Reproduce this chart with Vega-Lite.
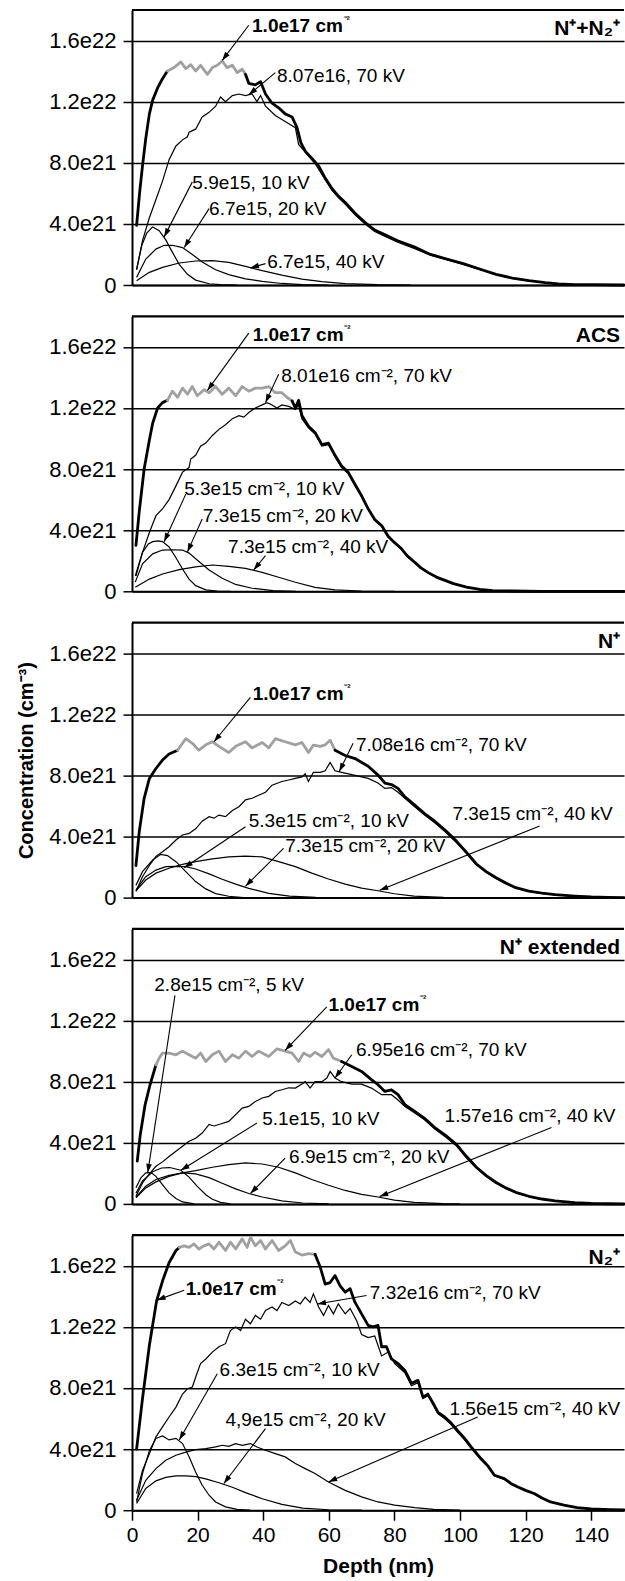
{
"$schema":"https://vega.github.io/schema/vega-lite/v6.json",
"background":"white",
"padding":{"top":8,"left":16,"right":0,"bottom":0},
"config":{"font":"Liberation Sans","view":{"stroke":null},
 "axis":{"domainColor":"black","domainWidth":2,"tickColor":"black","tickWidth":1.5,"gridColor":"black","gridWidth":1.5,"gridOpacity":1,"labelColor":"black","labelFont":"Liberation Sans","labelFontSize":21,"titleFont":"Liberation Sans","titleFontSize":21,"titleFontWeight":"bold","titleColor":"black"}},
"datasets":{
"curves":[
{"panel":1,"curve":"total rise","pts":[[1.4,3.9],[2.3,6.0],[3.2,7.8],[4.2,9.6],[5.3,11.2],[6.3,12.1],[7.8,12.9],[9.3,13.5],[10.8,14.0]]},
{"panel":1,"curve":"total plateau","pts":[[10.8,14.0],[12.8,14.23],[14.9,14.6],[16.4,14.16],[17.9,14.42],[19.4,14.01],[20.9,14.38],[23,13.79],[24.5,14.23],[26,14.38],[27.5,14.66],[29,14.23],[30.6,14.38],[32.1,13.9],[33.6,14.12],[34.6,13.79]]},
{"panel":1,"curve":"total tail","pts":[[34.6,13.79],[35.6,13.2],[37.6,13.1],[39.2,13.3],[40.7,12.5],[42.7,11.9],[44.7,11.6],[46.7,11.2],[48.8,11.0],[50.3,10.3],[51.5,9.3],[53,8.7],[54.8,8.3],[56.9,7.8],[58.9,7.0],[61,6.3],[63,5.8],[65,5.4],[68,4.7],[71,4.1],[74,3.6],[77,3.3],[81,2.9],[86,2.5],[91,2.0],[96,1.7],[101,1.4],[106,1.05],[111,0.7],[116,0.45],[121,0.28],[126,0.15],[130,0.07],[135,0.03],[140,0.02],[150,0]]},
{"panel":1,"curve":"70 kV","pts":[[1.4,1.0],[3.2,2.9],[5.3,4.4],[7.3,5.6],[9.3,6.8],[11.3,8.2],[13.4,9.1],[15.4,9.5],[16.9,9.7],[17.4,10.0],[19.4,10.2],[21.4,11.0],[23.5,11.3],[25.5,11.7],[27,12.3],[28.5,12.0],[30.6,12.4],[32.6,12.5],[34.6,12.4],[36.6,12.5],[38.1,12.0],[39.2,12.4],[40.7,11.7],[43.7,11.1],[46.7,10.7],[49.8,10.3],[50.8,9.2],[53.8,8.45],[55.8,7.95],[58.9,6.9],[61,6.2],[63,5.7],[65,5.3],[68,4.6],[71,4.0],[74,3.5],[77,3.2],[81,2.8],[86,2.4],[91,1.95],[96,1.65],[101,1.35],[106,1.0],[111,0.68],[116,0.43],[121,0.27],[126,0.14],[130,0.07],[135,0.03],[140,0.02],[150,0]]},
{"panel":1,"curve":"10 kV","pts":[[1.4,1.0],[3,2.6],[4.5,3.4],[6.3,3.8],[8.3,3.55],[10.3,2.95],[12.3,2.15],[14.4,1.35],[16.9,0.7],[19.4,0.32],[23.5,0.08],[27,0.02],[32,0]]},
{"panel":1,"curve":"20 kV","pts":[[1.4,0.5],[4.2,1.7],[7.3,2.35],[9.8,2.6],[12.3,2.6],[15.4,2.45],[18.4,2.0],[21.4,1.5],[25.5,1.0],[29.5,0.68],[34.6,0.4],[39.7,0.24],[45.7,0.1],[52,0.03],[60,0]]},
{"panel":1,"curve":"40 kV","pts":[[1.4,0.28],[5.3,0.83],[9.3,1.15],[14.4,1.44],[19.4,1.57],[24.5,1.59],[29.5,1.48],[34.6,1.22],[39.7,0.94],[45.7,0.65],[51.8,0.39],[57.9,0.22],[65,0.09],[75,0.02],[85,0]]},
{"panel":2,"curve":"total rise","pts":[[1.2,3.0],[2.2,5.2],[3.7,8.0],[5.3,9.9],[6.3,11.0],[7.8,12.0],[9.3,12.35],[10.8,12.5]]},
{"panel":2,"curve":"total plateau","pts":[[10.8,12.5],[12.3,13.1],[13.9,12.7],[15.4,13.3],[16.9,12.9],[18.4,13.4],[19.9,12.8],[22,13.2],[23.5,13.0],[25.5,13.4],[27.5,12.9],[29.5,13.3],[31.6,12.8],[33.6,13.4],[35.6,13.1],[37.6,13.3],[39.7,13.3],[41.7,13.4],[43.7,13.0],[45.7,13.0],[47.2,12.7],[48.8,12.46]]},
{"panel":2,"curve":"total tail","pts":[[48.8,12.46],[49.8,12.0],[50.8,12.5],[51.8,11.5],[53.8,10.8],[55.8,10.4],[57.9,9.6],[59.9,9.7],[61.9,8.9],[63.9,8.2],[65.9,7.8],[68,7.0],[70,6.25],[72,5.4],[74,4.7],[76.1,4.3],[78.1,3.6],[80,3.2],[82.1,2.8],[84,2.3],[86.2,1.9],[88,1.55],[90.2,1.24],[92.8,0.93],[95,0.75],[98,0.5],[102,0.28],[106,0.12],[110,0.05],[116,0.02],[125,0],[150,0]]},
{"panel":2,"curve":"70 kV","pts":[[1.2,1.0],[3.2,2.55],[5.3,3.85],[7.3,4.95],[9.3,5.4],[11.3,6.0],[13.4,6.9],[15.4,7.8],[17.4,8.1],[17.9,8.65],[19.4,8.9],[20.9,9.5],[22.5,9.7],[24.5,10.2],[26.5,10.6],[28.5,10.9],[30.6,11.3],[32.6,11.5],[34.1,11.4],[35.6,11.7],[37.6,12.0],[39.7,12.2],[41.2,12.35],[42.7,12.2],[44.2,12.0],[45.7,12.2],[47.8,12.1],[49.8,11.9],[50.8,12.2],[51.8,11.3],[53.8,10.7],[55.8,10.3],[57.9,9.5],[59.9,9.6],[61.9,8.8],[63.9,8.1],[65.9,7.7],[68,6.9],[70,6.2],[72,5.35],[74,4.65],[76.1,4.25],[78.1,3.55],[80,3.15],[82.1,2.75],[84,2.25],[86.2,1.85],[88,1.5],[90.2,1.2],[92.8,0.9],[95,0.72],[98,0.48],[102,0.27],[106,0.11],[110,0.04],[116,0.02],[125,0]]},
{"panel":2,"curve":"10 kV","pts":[[1.0,1.0],[3.2,2.55],[5,3.1],[6.3,3.25],[8,3.3],[9.3,3.25],[11.3,2.9],[13.4,2.2],[15.4,1.46],[17.4,0.8],[19.4,0.37],[22.5,0.09],[26,0.02],[30,0]]},
{"panel":2,"curve":"20 kV","pts":[[1.0,0.6],[3.2,1.8],[6.3,2.45],[9.3,2.7],[12.3,2.72],[15.4,2.7],[17.4,2.5],[20.4,1.95],[23.5,1.4],[27.5,0.85],[31.6,0.45],[36.6,0.2],[43,0.05],[50,0]]},
{"panel":2,"curve":"40 kV","pts":[[1.0,0.26],[5.3,0.8],[9.3,1.13],[14.4,1.42],[19.4,1.6],[24.5,1.72],[29.5,1.63],[34.6,1.5],[39.7,1.24],[44.7,0.92],[49.8,0.59],[55.8,0.26],[61.9,0.09],[70,0.02],[80,0]]},
{"panel":3,"curve":"total rise","pts":[[1.2,2.1],[2.2,4.3],[3.7,6.5],[5.3,7.8],[7.3,8.45],[9.3,9.0],[11.3,9.4],[13.4,9.6],[13.9,9.65]]},
{"panel":3,"curve":"total plateau","pts":[[13.9,9.65],[16.4,10.4],[18.4,10.1],[20.4,9.65],[22.5,10.0],[24.5,10.2],[26.5,9.9],[29.5,9.5],[31.6,9.9],[34.6,10.2],[36.6,9.8],[39.7,10.15],[41.7,9.8],[43.7,10.4],[46.7,10.2],[49.8,10.0],[51.8,10.15],[53.8,9.5],[55.3,9.98],[57.4,9.9],[58.9,10.0],[60.4,10.3],[61.9,9.65]]},
{"panel":3,"curve":"total tail","pts":[[61.9,9.65],[65,9.3],[68,9.1],[72,8.6],[75.1,8.0],[77.1,7.5],[79.1,7.4],[81.1,7.15],[83.2,6.6],[86.2,6.05],[89.2,5.5],[92.3,5.0],[95.5,4.4],[98.9,3.7],[102,2.95],[105,2.2],[108,1.7],[111,1.3],[114,0.95],[117,0.65],[121,0.42],[125,0.3],[129,0.2],[135,0.1],[140,0.04],[145,0.01],[150,0]]},
{"panel":3,"curve":"70 kV","pts":[[1.2,0.4],[3.2,1.37],[5.3,2.1],[7.3,2.7],[9.3,3.0],[11.3,3.33],[13.4,3.77],[15.4,4.1],[17.4,4.2],[19.4,4.5],[21.4,5.0],[23.5,5.3],[25,5.2],[26.5,5.4],[28.5,5.3],[30.6,5.7],[32.6,5.95],[34.6,6.4],[36.6,6.5],[38.6,6.7],[40.7,6.9],[42.7,7.36],[45.7,7.6],[47.8,7.7],[49.8,7.8],[51.8,7.9],[52.8,8.1],[53.8,7.6],[55.3,8.2],[57.4,8.2],[58.9,8.3],[60.4,8.85],[61.9,8.3],[63.9,8.2],[66,8.1],[70,7.9],[72,7.8],[75,7.5],[77.1,7.15],[79.1,7.2],[81.1,6.9],[83.2,6.5],[86.2,5.95],[89.2,5.4],[92.3,4.9],[95.5,4.3],[98.9,3.6],[102,2.9],[105,2.15],[108,1.65],[111,1.25],[114,0.9],[117,0.62],[121,0.4],[125,0.28],[129,0.18],[135,0.09],[140,0.03],[145,0.01]]},
{"panel":3,"curve":"10 kV","pts":[[1.2,0.8],[3.2,1.7],[6.3,2.46],[8.8,2.83],[10.8,2.75],[13.4,2.35],[16.4,1.7],[19.4,1.05],[22.5,0.57],[25.5,0.26],[29.5,0.09],[34,0]]},
{"panel":3,"curve":"20 kV","pts":[[1.2,0.5],[4.2,1.37],[7.3,1.8],[10.3,2.03],[13.4,2.05],[16.4,2.03],[19.4,1.87],[23.5,1.55],[27.5,1.2],[31.6,0.88],[35.6,0.6],[41.7,0.28],[48,0.1],[56,0.02],[62,0]]},
{"panel":3,"curve":"40 kV","pts":[[1.2,0.44],[4.2,1.15],[7.3,1.6],[11.3,1.92],[15.4,2.18],[19.4,2.35],[24.5,2.53],[29.5,2.66],[34.6,2.72],[39.7,2.66],[44.7,2.35],[49.8,2.03],[54.8,1.6],[59.9,1.22],[65,0.88],[70,0.62],[75,0.45],[80,0.25],[86,0.1],[95,0.02],[100,0]]},
{"panel":4,"curve":"total rise","pts":[[1.6,2.8],[2.5,4.5],[4,6.5],[5.5,7.8],[7.3,9.1]]},
{"panel":4,"curve":"total plateau","pts":[[7.3,9.1],[8.3,9.55],[9.3,9.87],[11.3,9.87],[13.4,9.76],[15.4,10.0],[17.4,9.76],[19.4,9.54],[20.9,9.87],[22.5,9.32],[24.5,9.76],[26.5,10.0],[28.5,9.32],[30.6,9.76],[32.6,9.54],[34.6,10.0],[36.6,9.65],[38.6,10.0],[41.7,9.65],[44.2,10.15],[46.7,10.0],[48.8,9.87],[50.8,9.32],[52.3,9.87],[54.3,9.65],[55.8,9.93],[57.9,9.65],[59.9,10.1],[61.4,9.54],[63.9,9.32]]},
{"panel":4,"curve":"total tail","pts":[[63.9,9.32],[67,9.0],[70,8.67],[73,8.13],[75,7.8],[77.1,7.36],[79.1,7.47],[81.1,7.15],[83.2,6.5],[86.2,6.06],[89.2,5.6],[92.3,5.0],[95.5,4.5],[98.9,3.9],[102,3.1],[105,2.4],[108,1.85],[111,1.4],[114,1.05],[117,0.76],[121,0.5],[125,0.32],[129,0.2],[135,0.08],[140,0.03],[145,0.01],[150,0]]},
{"panel":4,"curve":"70 kV","pts":[[1.2,0.5],[3.2,1.37],[5.3,1.96],[7.3,2.46],[9.3,2.75],[11.3,3.1],[13.4,3.44],[15.4,3.77],[17.4,4.1],[19.4,4.3],[21.4,4.64],[23.5,5.2],[25,5.1],[27,5.23],[29.5,5.4],[31.6,5.84],[33.6,6.27],[35.6,6.38],[37.6,6.7],[39.7,6.93],[41.7,7.04],[43.7,7.36],[45.7,7.47],[47.8,7.6],[49.8,7.58],[51.8,7.84],[52.8,8.0],[54.3,7.58],[55.8,8.0],[57.9,8.0],[59.4,8.24],[60.4,8.67],[61.9,8.24],[63.9,8.0],[67,7.84],[70,7.84],[73,7.58],[76.1,7.15],[79.1,7.15],[81.1,6.8],[83.2,6.38],[86.2,5.95],[89.2,5.5],[92.3,4.9],[95.5,4.4],[98.9,3.8],[102,3.0],[105,2.35],[108,1.8],[111,1.35],[114,1.0],[117,0.72],[121,0.48],[125,0.3],[129,0.19],[135,0.07],[140,0.03],[145,0.01]]},
{"panel":4,"curve":"5 kV","pts":[[1.2,1.05],[2.7,1.7],[4.2,2.03],[5.8,2.05],[7.3,1.8],[9.3,1.26],[11.3,0.72],[13.4,0.35],[15.4,0.13],[19,0]]},
{"panel":4,"curve":"10 kV","pts":[[1.2,0.7],[3.2,1.5],[6.3,2.1],[9,2.35],[11.5,2.38],[14.9,2.2],[17.4,1.75],[19.9,1.15],[22.5,0.6],[24.5,0.3],[27,0.1],[30,0]]},
{"panel":4,"curve":"20 kV","pts":[[1.2,0.44],[4.2,1.15],[7.3,1.6],[11.3,1.87],[15.4,2.03],[19.4,1.96],[23.5,1.72],[27.5,1.35],[31.6,0.98],[35.6,0.68],[39.7,0.45],[45.7,0.2],[52,0.06],[60,0]]},
{"panel":4,"curve":"40 kV","pts":[[1.2,0.39],[4.2,1.05],[7.3,1.44],[11.3,1.8],[15.4,2.03],[19.4,2.18],[24.5,2.4],[29.5,2.57],[34.6,2.68],[39.7,2.61],[44.7,2.4],[49.8,2.03],[54.8,1.6],[59.9,1.22],[65,0.88],[70,0.62],[75,0.45],[80,0.25],[86,0.1],[95,0.02],[100,0]]},
{"panel":5,"curve":"total rise","pts":[[1.4,4.0],[3.2,7.3],[5.3,10.8],[7.5,13.7],[9.3,15.0],[11.3,16.2],[13.4,17.0],[14.4,17.2]]},
{"panel":5,"curve":"total plateau","pts":[[14.4,17.2],[15.9,17.3],[17.4,17.2],[18.9,17.43],[20.4,17.1],[21.9,17.3],[23.5,17.43],[25,17.1],[26.5,17.54],[28.5,17.0],[30,17.54],[31.6,17.1],[33.6,17.76],[35.1,17.2],[36.1,17.87],[37.6,17.3],[39.2,17.65],[40.7,17.1],[42.7,17.65],[44.7,17.0],[46.7,17.3],[48.3,17.65],[49.8,16.9],[51.8,16.7],[53.8,16.8],[55.8,16.75]]},
{"panel":5,"curve":"total tail","pts":[[55.8,16.75],[57.4,15.9],[58.9,14.8],[60.4,14.9],[61.9,15.36],[63.4,14.7],[65,14.27],[66.5,14.5],[68,13.6],[70,12.85],[72,12.1],[73.5,12.0],[75,12.1],[76.1,10.7],[77.6,10.7],[79.1,9.9],[81.1,9.6],[83.2,9.15],[85.2,8.3],[87.2,8.5],[88.7,7.4],[90.2,7.6],[91.8,7.0],[93.3,6.4],[95.3,6.1],[97.3,5.7],[99.3,5.2],[101.4,4.7],[103.4,4.14],[106.4,3.38],[108.5,2.9],[110.5,2.29],[113.5,2.07],[115.5,1.75],[117.5,1.53],[120,1.3],[122.6,1.09],[125,0.8],[127.6,0.54],[131.7,0.33],[135.7,0.17],[140,0.08],[145.9,0.04],[150,0.02]]},
{"panel":5,"curve":"70 kV","pts":[[1.4,1.09],[3.2,2.6],[5.3,3.7],[7.3,4.8],[9.3,5.45],[11.3,6.1],[13.4,6.75],[15.4,7.6],[16.9,7.95],[18.4,8.06],[19.4,8.7],[20.9,9.6],[22.5,9.9],[24.5,10.35],[26.5,10.7],[28.5,10.9],[30,11.76],[31.6,12.0],[33.1,11.76],[34.6,12.5],[36.1,12.2],[37.6,12.75],[39.2,12.5],[40.7,13.07],[42.7,13.3],[44.2,13.07],[45.7,13.6],[47.8,13.4],[49.8,13.7],[51.3,13.5],[52.8,13.94],[54.3,13.6],[55.3,14.16],[56.9,13.3],[58.4,12.75],[59.9,13.4],[61.4,12.85],[62.9,13.5],[65,12.85],[66.5,13.2],[68.5,12.4],[70,11.5],[72,11.3],[74,11.4],[76.1,10.1],[78.1,10.35],[80.1,9.6],[83.2,9.0],[85.2,8.15],[87.2,8.35],[88.7,7.3],[90.2,7.5],[91.8,6.9],[93.3,6.3],[95.3,6.0],[97.3,5.6],[99.3,5.1],[101.4,4.6],[103.4,4.05],[106.4,3.3],[108.5,2.85],[110.5,2.25],[113.5,2.02],[115.5,1.7],[117.5,1.5],[120,1.27],[122.6,1.06],[125,0.78],[127.6,0.52],[131.7,0.32],[135.7,0.16],[140,0.07],[145.9,0.03]]},
{"panel":5,"curve":"10 kV","pts":[[1.4,0.54],[3.2,2.4],[5.3,3.9],[7.3,4.7],[9.3,4.86],[11.3,4.6],[13.4,4.7],[15.4,4.36],[17.4,3.5],[19.4,2.5],[21.4,1.63],[23.5,0.98],[25.5,0.54],[28.5,0.22],[32,0.05],[36,0]]},
{"panel":5,"curve":"20 kV","pts":[[1.4,0.44],[4.2,1.42],[7.3,1.92],[10.3,2.15],[13.4,2.25],[16.4,2.25],[19.4,2.2],[22.5,2.05],[26.5,1.8],[30.6,1.5],[34.6,1.15],[39.7,0.75],[45.7,0.38],[52,0.13],[60,0.03],[70,0]]},
{"panel":5,"curve":"40 kV","pts":[[1.4,0.65],[4.2,1.96],[7.3,2.72],[10.3,3.27],[13.4,3.6],[16.4,3.8],[19.4,3.96],[22.5,4.03],[25.5,4.14],[27.5,4.25],[29.5,4.18],[31.6,4.36],[33.6,4.25],[36.1,4.36],[38.1,4.14],[40.7,3.92],[43.7,3.7],[46.7,3.49],[49.8,3.05],[52.8,2.72],[55.8,2.4],[59.9,1.85],[65,1.3],[70,0.87],[75,0.54],[80.1,0.33],[86.2,0.17],[92,0.06],[100,0]]}
],
"notes":[
{"panel":1,"label":"1.0e17 cm⁻²","tx":36.6,"ty":16.95,"x1":35.6,"y1":17.0,"x2":27.5,"y2":14.7},
{"panel":1,"label":"8.07e16, 70 kV","tx":44.2,"ty":13.7,"x1":43.7,"y1":13.9,"x2":35.6,"y2":12.45},
{"panel":1,"label":"5.9e15, 10 kV","tx":18.4,"ty":6.7,"x1":18.4,"y1":6.75,"x2":9.8,"y2":3.15},
{"panel":1,"label":"6.7e15, 20 kV","tx":23.5,"ty":4.97,"x1":23.5,"y1":5.0,"x2":15.9,"y2":2.45},
{"panel":1,"label":"6.7e15, 40 kV","tx":41.2,"ty":1.48,"x1":40.7,"y1":1.4,"x2":36.1,"y2":1.12},
{"panel":2,"label":"1.0e17 cm⁻²","tx":36.8,"ty":16.8,"x1":35.6,"y1":16.9,"x2":23.0,"y2":13.15},
{"panel":2,"label":"8.01e16 cm⁻², 70 kV","tx":45.5,"ty":14.1,"x1":44.7,"y1":14.2,"x2":40.7,"y2":12.35},
{"panel":2,"label":"5.3e15 cm⁻², 10 kV","tx":15.9,"ty":6.7,"x1":16.4,"y1":6.36,"x2":9.8,"y2":3.25},
{"panel":2,"label":"7.3e15 cm⁻², 20 kV","tx":21.6,"ty":4.95,"x1":21.4,"y1":4.73,"x2":16.9,"y2":2.58},
{"panel":2,"label":"7.3e15 cm⁻², 40 kV","tx":29.3,"ty":2.88,"x1":40.7,"y1":2.33,"x2":37.1,"y2":1.4},
{"panel":3,"label":"1.0e17 cm⁻²","tx":36.8,"ty":13.3,"x1":36.1,"y1":13.1,"x2":25,"y2":10.2},
{"panel":3,"label":"7.08e16 cm⁻², 70 kV","tx":68.3,"ty":10.0,"x1":67.4,"y1":10.1,"x2":63.2,"y2":8.25},
{"panel":3,"label":"5.3e15 cm⁻², 10 kV","tx":35.6,"ty":5.0,"x1":34.6,"y1":4.64,"x2":15.9,"y2":1.95},
{"panel":3,"label":"7.3e15 cm⁻², 20 kV","tx":46.7,"ty":3.38,"x1":46.2,"y1":3.22,"x2":34.6,"y2":0.75},
{"panel":3,"label":"7.3e15 cm⁻², 40 kV","tx":97.7,"ty":5.45,"x1":124.3,"y1":4.69,"x2":75.5,"y2":0.48},
{"panel":4,"label":"2.8e15 cm⁻², 5 kV","tx":6.8,"ty":14.3,"x1":13.1,"y1":13.65,"x2":4.8,"y2":2.05},
{"panel":4,"label":"1.0e17 cm⁻²","tx":59.9,"ty":13.0,"x1":59.4,"y1":12.9,"x2":46.7,"y2":10.05},
{"panel":4,"label":"6.95e16 cm⁻², 70 kV","tx":68.3,"ty":10.1,"x1":67,"y1":9.76,"x2":61.9,"y2":8.24},
{"panel":4,"label":"5.1e15, 10 kV","tx":39.7,"ty":5.56,"x1":38.1,"y1":5.3,"x2":14.9,"y2":2.2},
{"panel":4,"label":"6.9e15 cm⁻², 20 kV","tx":47.9,"ty":3.1,"x1":46.7,"y1":3.0,"x2":36.1,"y2":0.68},
{"panel":4,"label":"1.57e16 cm⁻², 40 kV","tx":95.3,"ty":5.77,"x1":127.9,"y1":5.0,"x2":75.5,"y2":0.48},
{"panel":5,"label":"1.0e17 cm⁻²","tx":16.4,"ty":14.5,"x1":15.9,"y1":14.4,"x2":7.6,"y2":13.75},
{"panel":5,"label":"7.32e16 cm⁻², 70 kV","tx":72.5,"ty":14.2,"x1":71.5,"y1":14.05,"x2":56.5,"y2":13.5},
{"panel":5,"label":"6.3e15 cm⁻², 10 kV","tx":26.7,"ty":9.15,"x1":26,"y1":8.93,"x2":14.4,"y2":4.6},
{"panel":5,"label":"4,9e15 cm⁻², 20 kV","tx":28.5,"ty":5.88,"x1":40.7,"y1":5.34,"x2":28,"y2":1.75},
{"panel":5,"label":"1.56e15 cm⁻², 40 kV","tx":96.8,"ty":6.64,"x1":105.4,"y1":6.1,"x2":59.9,"y2":1.85}
],
"panels":[{"panel":1,"name":"N⁺+N₂⁺","ny":16.35},{"panel":2,"name":"ACS","ny":16.35},{"panel":3,"name":"N⁺","ny":16.35},{"panel":4,"name":"N⁺ extended","ny":16.35},{"panel":5,"name":"N₂⁺","ny":16.1}]
},
"spacing":31.3,
"bounds":"flush",
"vconcat":[
{"width":492,"height":275,"layer":[
 {"data":{"name":"curves"},"transform":[{"filter":"datum.panel===1 && indexof(datum.curve,'total')<0"},{"flatten":["pts"]}],"mark":{"type":"line","color":"black","strokeWidth":1.2},
  "encoding":{"x":{"field":"pts[0]","type":"quantitative","scale":{"domain":[0,150],"nice":false,"zero":false},"axis":{"labels":false,"ticks":false,"grid":false,"title":null}},
   "y":{"field":"pts[1]","type":"quantitative","scale":{"domain":[0,18],"nice":false},"axis":{"values":[0,4,8,12,16],"labelExpr":"datum.value===0?'0':(datum.value<10?format(datum.value,'.1f')+'e21':format(datum.value/10,'.1f')+'e22')","tickSize":9,"labelPadding":7,"labelFontSize":22,"grid":true,"title":null,"labelFlush":false}},
   "detail":{"field":"curve"}}},
 {"data":{"values":[{}]},"mark":{"type":"rule","color":"black","strokeWidth":2.2},"encoding":{"y":{"datum":18,"type":"quantitative"}}},
 {"data":{"name":"curves"},"transform":[{"filter":"datum.panel===1 && indexof(datum.curve,'total')===0"},{"flatten":["pts"]}],"mark":{"type":"line","strokeWidth":2.8,"strokeJoin":"round","strokeCap":"round"},
  "encoding":{"x":{"field":"pts[0]","type":"quantitative"},"y":{"field":"pts[1]","type":"quantitative"},"detail":{"field":"curve"},
   "color":{"condition":{"test":"datum.curve==='total plateau'","value":"#a0a0a0"},"value":"black"}}},
 {"data":{"name":"notes"},"transform":[{"filter":"datum.panel===1"}],"mark":{"type":"rule","color":"black","strokeWidth":1.1},
  "encoding":{"x":{"field":"x1","type":"quantitative"},"y":{"field":"y1","type":"quantitative"},"x2":{"field":"x2"},"y2":{"field":"y2"}}},
 {"data":{"name":"notes"},"transform":[{"filter":"datum.panel===1"},{"calculate":"atan2((datum.x2-datum.x1)*3.28,(datum.y2-datum.y1)*15.28)*180/PI","as":"ang"}],"mark":{"type":"point","shape":"M0,0L-0.33,1L0.33,1Z","filled":true,"size":300,"color":"black","opacity":1},
  "encoding":{"x":{"field":"x2","type":"quantitative"},"y":{"field":"y2","type":"quantitative"},"angle":{"field":"ang","type":"quantitative","scale":null}}},
 {"data":{"name":"notes"},"transform":[{"filter":"datum.panel===1 && indexof(datum.label,'1.0e17')!==0"}],"mark":{"type":"text","align":"left","baseline":"middle","fontSize":19,"font":"Liberation Sans","color":"black"},
  "encoding":{"x":{"field":"tx","type":"quantitative"},"y":{"field":"ty","type":"quantitative"},"text":{"field":"label"}}},
 {"data":{"name":"notes"},"transform":[{"filter":"datum.panel===1 && indexof(datum.label,'1.0e17')===0"},{"calculate":"replace(datum.label,'⁻²','')","as":"base"}],"mark":{"type":"text","align":"left","baseline":"middle","fontSize":19,"fontWeight":"bold","font":"Liberation Sans","color":"black"},
  "encoding":{"x":{"field":"tx","type":"quantitative"},"y":{"field":"ty","type":"quantitative"},"text":{"field":"base"}}},
 {"data":{"name":"notes"},"transform":[{"filter":"datum.panel===1 && indexof(datum.label,'1.0e17')===0"}],"mark":{"type":"text","align":"left","baseline":"middle","fontSize":10,"fontWeight":"bold","font":"Liberation Sans","color":"black","dx":91.5,"dy":-6},
  "encoding":{"x":{"field":"tx","type":"quantitative"},"y":{"field":"ty","type":"quantitative"},"text":{"value":"⁻²"}}},
 {"data":{"name":"panels"},"transform":[{"filter":"datum.panel===1"}],"mark":{"type":"text","align":"right","baseline":"alphabetic","fontSize":21,"fontWeight":"bold","font":"Liberation Sans","color":"black"},
  "encoding":{"x":{"datum":148.8,"type":"quantitative"},"y":{"field":"ny","type":"quantitative"},"text":{"field":"name"}}}
]},
{"width":492,"height":275,"layer":[
 {"data":{"name":"curves"},"transform":[{"filter":"datum.panel===2 && indexof(datum.curve,'total')<0"},{"flatten":["pts"]}],"mark":{"type":"line","color":"black","strokeWidth":1.2},
  "encoding":{"x":{"field":"pts[0]","type":"quantitative","scale":{"domain":[0,150],"nice":false,"zero":false},"axis":{"labels":false,"ticks":false,"grid":false,"title":null}},
   "y":{"field":"pts[1]","type":"quantitative","scale":{"domain":[0,18],"nice":false},"axis":{"values":[0,4,8,12,16],"labelExpr":"datum.value===0?'0':(datum.value<10?format(datum.value,'.1f')+'e21':format(datum.value/10,'.1f')+'e22')","tickSize":9,"labelPadding":7,"labelFontSize":22,"grid":true,"title":null,"labelFlush":false}},
   "detail":{"field":"curve"}}},
 {"data":{"values":[{}]},"mark":{"type":"rule","color":"black","strokeWidth":2.2},"encoding":{"y":{"datum":18,"type":"quantitative"}}},
 {"data":{"name":"curves"},"transform":[{"filter":"datum.panel===2 && indexof(datum.curve,'total')===0"},{"flatten":["pts"]}],"mark":{"type":"line","strokeWidth":2.8,"strokeJoin":"round","strokeCap":"round"},
  "encoding":{"x":{"field":"pts[0]","type":"quantitative"},"y":{"field":"pts[1]","type":"quantitative"},"detail":{"field":"curve"},
   "color":{"condition":{"test":"datum.curve==='total plateau'","value":"#a0a0a0"},"value":"black"}}},
 {"data":{"name":"notes"},"transform":[{"filter":"datum.panel===2"}],"mark":{"type":"rule","color":"black","strokeWidth":1.1},
  "encoding":{"x":{"field":"x1","type":"quantitative"},"y":{"field":"y1","type":"quantitative"},"x2":{"field":"x2"},"y2":{"field":"y2"}}},
 {"data":{"name":"notes"},"transform":[{"filter":"datum.panel===2"},{"calculate":"atan2((datum.x2-datum.x1)*3.28,(datum.y2-datum.y1)*15.28)*180/PI","as":"ang"}],"mark":{"type":"point","shape":"M0,0L-0.33,1L0.33,1Z","filled":true,"size":300,"color":"black","opacity":1},
  "encoding":{"x":{"field":"x2","type":"quantitative"},"y":{"field":"y2","type":"quantitative"},"angle":{"field":"ang","type":"quantitative","scale":null}}},
 {"data":{"name":"notes"},"transform":[{"filter":"datum.panel===2 && indexof(datum.label,'1.0e17')!==0"}],"mark":{"type":"text","align":"left","baseline":"middle","fontSize":19,"font":"Liberation Sans","color":"black"},
  "encoding":{"x":{"field":"tx","type":"quantitative"},"y":{"field":"ty","type":"quantitative"},"text":{"field":"label"}}},
 {"data":{"name":"notes"},"transform":[{"filter":"datum.panel===2 && indexof(datum.label,'1.0e17')===0"},{"calculate":"replace(datum.label,'⁻²','')","as":"base"}],"mark":{"type":"text","align":"left","baseline":"middle","fontSize":19,"fontWeight":"bold","font":"Liberation Sans","color":"black"},
  "encoding":{"x":{"field":"tx","type":"quantitative"},"y":{"field":"ty","type":"quantitative"},"text":{"field":"base"}}},
 {"data":{"name":"notes"},"transform":[{"filter":"datum.panel===2 && indexof(datum.label,'1.0e17')===0"}],"mark":{"type":"text","align":"left","baseline":"middle","fontSize":10,"fontWeight":"bold","font":"Liberation Sans","color":"black","dx":91.5,"dy":-6},
  "encoding":{"x":{"field":"tx","type":"quantitative"},"y":{"field":"ty","type":"quantitative"},"text":{"value":"⁻²"}}},
 {"data":{"name":"panels"},"transform":[{"filter":"datum.panel===2"}],"mark":{"type":"text","align":"right","baseline":"alphabetic","fontSize":21,"fontWeight":"bold","font":"Liberation Sans","color":"black"},
  "encoding":{"x":{"datum":148.8,"type":"quantitative"},"y":{"field":"ny","type":"quantitative"},"text":{"field":"name"}}}
]},
{"width":492,"height":275,"layer":[
 {"data":{"name":"curves"},"transform":[{"filter":"datum.panel===3 && indexof(datum.curve,'total')<0"},{"flatten":["pts"]}],"mark":{"type":"line","color":"black","strokeWidth":1.2},
  "encoding":{"x":{"field":"pts[0]","type":"quantitative","scale":{"domain":[0,150],"nice":false,"zero":false},"axis":{"labels":false,"ticks":false,"grid":false,"title":null}},
   "y":{"field":"pts[1]","type":"quantitative","scale":{"domain":[0,18],"nice":false},"axis":{"values":[0,4,8,12,16],"labelExpr":"datum.value===0?'0':(datum.value<10?format(datum.value,'.1f')+'e21':format(datum.value/10,'.1f')+'e22')","tickSize":9,"labelPadding":7,"labelFontSize":22,"grid":true,"title":"Concentration (cm⁻³)","titleFontSize":20,"titlePadding":12,"labelFlush":false}},
   "detail":{"field":"curve"}}},
 {"data":{"values":[{}]},"mark":{"type":"rule","color":"black","strokeWidth":2.2},"encoding":{"y":{"datum":18,"type":"quantitative"}}},
 {"data":{"name":"curves"},"transform":[{"filter":"datum.panel===3 && indexof(datum.curve,'total')===0"},{"flatten":["pts"]}],"mark":{"type":"line","strokeWidth":2.8,"strokeJoin":"round","strokeCap":"round"},
  "encoding":{"x":{"field":"pts[0]","type":"quantitative"},"y":{"field":"pts[1]","type":"quantitative"},"detail":{"field":"curve"},
   "color":{"condition":{"test":"datum.curve==='total plateau'","value":"#a0a0a0"},"value":"black"}}},
 {"data":{"name":"notes"},"transform":[{"filter":"datum.panel===3"}],"mark":{"type":"rule","color":"black","strokeWidth":1.1},
  "encoding":{"x":{"field":"x1","type":"quantitative"},"y":{"field":"y1","type":"quantitative"},"x2":{"field":"x2"},"y2":{"field":"y2"}}},
 {"data":{"name":"notes"},"transform":[{"filter":"datum.panel===3"},{"calculate":"atan2((datum.x2-datum.x1)*3.28,(datum.y2-datum.y1)*15.28)*180/PI","as":"ang"}],"mark":{"type":"point","shape":"M0,0L-0.33,1L0.33,1Z","filled":true,"size":300,"color":"black","opacity":1},
  "encoding":{"x":{"field":"x2","type":"quantitative"},"y":{"field":"y2","type":"quantitative"},"angle":{"field":"ang","type":"quantitative","scale":null}}},
 {"data":{"name":"notes"},"transform":[{"filter":"datum.panel===3 && indexof(datum.label,'1.0e17')!==0"}],"mark":{"type":"text","align":"left","baseline":"middle","fontSize":19,"font":"Liberation Sans","color":"black"},
  "encoding":{"x":{"field":"tx","type":"quantitative"},"y":{"field":"ty","type":"quantitative"},"text":{"field":"label"}}},
 {"data":{"name":"notes"},"transform":[{"filter":"datum.panel===3 && indexof(datum.label,'1.0e17')===0"},{"calculate":"replace(datum.label,'⁻²','')","as":"base"}],"mark":{"type":"text","align":"left","baseline":"middle","fontSize":19,"fontWeight":"bold","font":"Liberation Sans","color":"black"},
  "encoding":{"x":{"field":"tx","type":"quantitative"},"y":{"field":"ty","type":"quantitative"},"text":{"field":"base"}}},
 {"data":{"name":"notes"},"transform":[{"filter":"datum.panel===3 && indexof(datum.label,'1.0e17')===0"}],"mark":{"type":"text","align":"left","baseline":"middle","fontSize":10,"fontWeight":"bold","font":"Liberation Sans","color":"black","dx":91.5,"dy":-6},
  "encoding":{"x":{"field":"tx","type":"quantitative"},"y":{"field":"ty","type":"quantitative"},"text":{"value":"⁻²"}}},
 {"data":{"name":"panels"},"transform":[{"filter":"datum.panel===3"}],"mark":{"type":"text","align":"right","baseline":"alphabetic","fontSize":21,"fontWeight":"bold","font":"Liberation Sans","color":"black"},
  "encoding":{"x":{"datum":148.8,"type":"quantitative"},"y":{"field":"ny","type":"quantitative"},"text":{"field":"name"}}}
]},
{"width":492,"height":275,"layer":[
 {"data":{"name":"curves"},"transform":[{"filter":"datum.panel===4 && indexof(datum.curve,'total')<0"},{"flatten":["pts"]}],"mark":{"type":"line","color":"black","strokeWidth":1.2},
  "encoding":{"x":{"field":"pts[0]","type":"quantitative","scale":{"domain":[0,150],"nice":false,"zero":false},"axis":{"labels":false,"ticks":false,"grid":false,"title":null}},
   "y":{"field":"pts[1]","type":"quantitative","scale":{"domain":[0,18],"nice":false},"axis":{"values":[0,4,8,12,16],"labelExpr":"datum.value===0?'0':(datum.value<10?format(datum.value,'.1f')+'e21':format(datum.value/10,'.1f')+'e22')","tickSize":9,"labelPadding":7,"labelFontSize":22,"grid":true,"title":null,"labelFlush":false}},
   "detail":{"field":"curve"}}},
 {"data":{"values":[{}]},"mark":{"type":"rule","color":"black","strokeWidth":2.2},"encoding":{"y":{"datum":18,"type":"quantitative"}}},
 {"data":{"name":"curves"},"transform":[{"filter":"datum.panel===4 && indexof(datum.curve,'total')===0"},{"flatten":["pts"]}],"mark":{"type":"line","strokeWidth":2.8,"strokeJoin":"round","strokeCap":"round"},
  "encoding":{"x":{"field":"pts[0]","type":"quantitative"},"y":{"field":"pts[1]","type":"quantitative"},"detail":{"field":"curve"},
   "color":{"condition":{"test":"datum.curve==='total plateau'","value":"#a0a0a0"},"value":"black"}}},
 {"data":{"name":"notes"},"transform":[{"filter":"datum.panel===4"}],"mark":{"type":"rule","color":"black","strokeWidth":1.1},
  "encoding":{"x":{"field":"x1","type":"quantitative"},"y":{"field":"y1","type":"quantitative"},"x2":{"field":"x2"},"y2":{"field":"y2"}}},
 {"data":{"name":"notes"},"transform":[{"filter":"datum.panel===4"},{"calculate":"atan2((datum.x2-datum.x1)*3.28,(datum.y2-datum.y1)*15.28)*180/PI","as":"ang"}],"mark":{"type":"point","shape":"M0,0L-0.33,1L0.33,1Z","filled":true,"size":300,"color":"black","opacity":1},
  "encoding":{"x":{"field":"x2","type":"quantitative"},"y":{"field":"y2","type":"quantitative"},"angle":{"field":"ang","type":"quantitative","scale":null}}},
 {"data":{"name":"notes"},"transform":[{"filter":"datum.panel===4 && indexof(datum.label,'1.0e17')!==0"}],"mark":{"type":"text","align":"left","baseline":"middle","fontSize":19,"font":"Liberation Sans","color":"black"},
  "encoding":{"x":{"field":"tx","type":"quantitative"},"y":{"field":"ty","type":"quantitative"},"text":{"field":"label"}}},
 {"data":{"name":"notes"},"transform":[{"filter":"datum.panel===4 && indexof(datum.label,'1.0e17')===0"},{"calculate":"replace(datum.label,'⁻²','')","as":"base"}],"mark":{"type":"text","align":"left","baseline":"middle","fontSize":19,"fontWeight":"bold","font":"Liberation Sans","color":"black"},
  "encoding":{"x":{"field":"tx","type":"quantitative"},"y":{"field":"ty","type":"quantitative"},"text":{"field":"base"}}},
 {"data":{"name":"notes"},"transform":[{"filter":"datum.panel===4 && indexof(datum.label,'1.0e17')===0"}],"mark":{"type":"text","align":"left","baseline":"middle","fontSize":10,"fontWeight":"bold","font":"Liberation Sans","color":"black","dx":91.5,"dy":-6},
  "encoding":{"x":{"field":"tx","type":"quantitative"},"y":{"field":"ty","type":"quantitative"},"text":{"value":"⁻²"}}},
 {"data":{"name":"panels"},"transform":[{"filter":"datum.panel===4"}],"mark":{"type":"text","align":"right","baseline":"alphabetic","fontSize":21,"fontWeight":"bold","font":"Liberation Sans","color":"black"},
  "encoding":{"x":{"datum":148.8,"type":"quantitative"},"y":{"field":"ny","type":"quantitative"},"text":{"field":"name"}}}
]},
{"width":492,"height":275,"layer":[
 {"data":{"name":"curves"},"transform":[{"filter":"datum.panel===5 && indexof(datum.curve,'total')<0"},{"flatten":["pts"]}],"mark":{"type":"line","color":"black","strokeWidth":1.2},
  "encoding":{"x":{"field":"pts[0]","type":"quantitative","scale":{"domain":[0,150],"nice":false,"zero":false},"axis":{"values":[0,20,40,60,80,100,120,140],"tickSize":10,"labelPadding":4,"grid":false,"title":"Depth (nm)","titlePadding":10,"labelFlush":false}},
   "y":{"field":"pts[1]","type":"quantitative","scale":{"domain":[0,18],"nice":false},"axis":{"values":[0,4,8,12,16],"labelExpr":"datum.value===0?'0':(datum.value<10?format(datum.value,'.1f')+'e21':format(datum.value/10,'.1f')+'e22')","tickSize":9,"labelPadding":7,"labelFontSize":22,"grid":true,"title":null,"labelFlush":false}},
   "detail":{"field":"curve"}}},
 {"data":{"values":[{}]},"mark":{"type":"rule","color":"black","strokeWidth":2.2},"encoding":{"y":{"datum":18,"type":"quantitative"}}},
 {"data":{"name":"curves"},"transform":[{"filter":"datum.panel===5 && indexof(datum.curve,'total')===0"},{"flatten":["pts"]}],"mark":{"type":"line","strokeWidth":2.8,"strokeJoin":"round","strokeCap":"round"},
  "encoding":{"x":{"field":"pts[0]","type":"quantitative"},"y":{"field":"pts[1]","type":"quantitative"},"detail":{"field":"curve"},
   "color":{"condition":{"test":"datum.curve==='total plateau'","value":"#a0a0a0"},"value":"black"}}},
 {"data":{"name":"notes"},"transform":[{"filter":"datum.panel===5"}],"mark":{"type":"rule","color":"black","strokeWidth":1.1},
  "encoding":{"x":{"field":"x1","type":"quantitative"},"y":{"field":"y1","type":"quantitative"},"x2":{"field":"x2"},"y2":{"field":"y2"}}},
 {"data":{"name":"notes"},"transform":[{"filter":"datum.panel===5"},{"calculate":"atan2((datum.x2-datum.x1)*3.28,(datum.y2-datum.y1)*15.28)*180/PI","as":"ang"}],"mark":{"type":"point","shape":"M0,0L-0.33,1L0.33,1Z","filled":true,"size":300,"color":"black","opacity":1},
  "encoding":{"x":{"field":"x2","type":"quantitative"},"y":{"field":"y2","type":"quantitative"},"angle":{"field":"ang","type":"quantitative","scale":null}}},
 {"data":{"name":"notes"},"transform":[{"filter":"datum.panel===5 && indexof(datum.label,'1.0e17')!==0"}],"mark":{"type":"text","align":"left","baseline":"middle","fontSize":19,"font":"Liberation Sans","color":"black"},
  "encoding":{"x":{"field":"tx","type":"quantitative"},"y":{"field":"ty","type":"quantitative"},"text":{"field":"label"}}},
 {"data":{"name":"notes"},"transform":[{"filter":"datum.panel===5 && indexof(datum.label,'1.0e17')===0"},{"calculate":"replace(datum.label,'⁻²','')","as":"base"}],"mark":{"type":"text","align":"left","baseline":"middle","fontSize":19,"fontWeight":"bold","font":"Liberation Sans","color":"black"},
  "encoding":{"x":{"field":"tx","type":"quantitative"},"y":{"field":"ty","type":"quantitative"},"text":{"field":"base"}}},
 {"data":{"name":"notes"},"transform":[{"filter":"datum.panel===5 && indexof(datum.label,'1.0e17')===0"}],"mark":{"type":"text","align":"left","baseline":"middle","fontSize":10,"fontWeight":"bold","font":"Liberation Sans","color":"black","dx":91.5,"dy":-6},
  "encoding":{"x":{"field":"tx","type":"quantitative"},"y":{"field":"ty","type":"quantitative"},"text":{"value":"⁻²"}}},
 {"data":{"name":"panels"},"transform":[{"filter":"datum.panel===5"}],"mark":{"type":"text","align":"right","baseline":"alphabetic","fontSize":21,"fontWeight":"bold","font":"Liberation Sans","color":"black"},
  "encoding":{"x":{"datum":148.8,"type":"quantitative"},"y":{"field":"ny","type":"quantitative"},"text":{"field":"name"}}}
]}
]
}
